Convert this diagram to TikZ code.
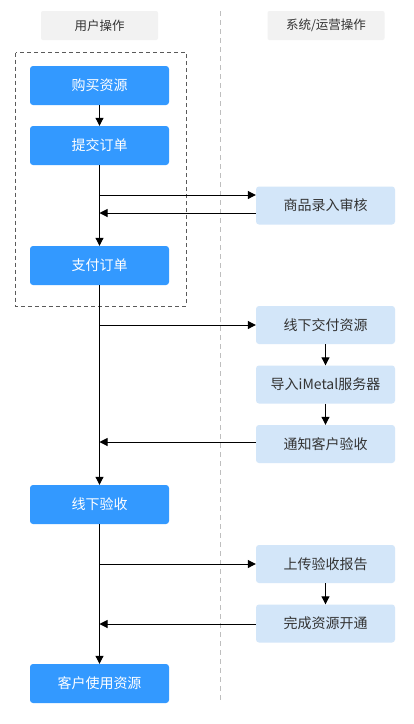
\documentclass[tikz,border=0pt]{standalone}
\usepackage{fontspec}
\setmainfont{Noto Sans CJK SC}
\usetikzlibrary{arrows.meta}
\definecolor{bluebox}{RGB}{51,153,255}
\definecolor{lightbox}{RGB}{211,230,249}
\definecolor{headbox}{RGB}{242,242,242}
\definecolor{txtgray}{RGB}{51,51,51}
\tikzset{
  x=1pt,y=-1pt,
  userbox/.style={fill=bluebox,rounded corners=3pt,minimum width=139pt,minimum height=39pt,inner sep=0pt,text=white,font=\fontsize{14}{16}\selectfont},
  sysbox/.style={fill=lightbox,rounded corners=3pt,minimum width=139pt,minimum height=38pt,inner sep=0pt,text=txtgray,font=\fontsize{14}{16}\selectfont},
  headnode/.style={fill=headbox,rounded corners=2pt,minimum width=117pt,minimum height=29pt,inner sep=0pt,text=txtgray,font=\fontsize{12.5}{14}\selectfont},
  flow/.style={line width=1pt,-{Triangle[length=8pt,width=8pt]}},
}
\begin{document}
\begin{tikzpicture}
\useasboundingbox[fill=white] (0,0) rectangle (413,724);
% headers
\node[headnode] (h1) at (99.5,25.5) {用户操作};
\node[headnode] (h2) at (326,25.5) {系统/运营操作};
% lane divider
\coordinate (d1) at (220,11);
\coordinate (d2) at (220,702);
\draw[draw={rgb,255:red,190;green,190;blue,190},line width=0.8pt,dash pattern=on 5pt off 4pt] (d1) -- (d2);
% group box
\coordinate (g1) at (15.5,52.5);
\coordinate (g2) at (186,306);
\draw[draw={rgb,255:red,90;green,90;blue,90},line width=0.8pt,dash pattern=on 4pt off 3pt] (g1) rectangle (g2);
% user nodes
\node[userbox] (buy) at (99.5,85.5) {购买资源};
\node[userbox] (sub) at (99.5,145.5) {提交订单};
\node[userbox] (pay) at (99.5,265.5) {支付订单};
\node[userbox] (chk) at (99.5,504.5) {线下验收};
\node[userbox] (use) at (99.5,683.5) {客户使用资源};
% system nodes
\node[sysbox] (rev) at (325.5,205.5) {商品录入审核};
\node[sysbox] (del) at (325.5,325) {线下交付资源};
\node[sysbox] (imp) at (325.5,384.5) {导入iMetal服务器};
\node[sysbox] (ntf) at (325.5,444) {通知客户验收};
\node[sysbox] (upl) at (325.5,564) {上传验收报告};
\node[sysbox] (opn) at (325.5,623.5) {完成资源开通};
% vertical flow
\draw[flow] (buy) -- (sub);
\draw[flow] (sub) -- (pay);
\draw[flow] (pay) -- (chk);
\draw[flow] (chk) -- (use);
\draw[flow] (del) -- (imp);
\draw[flow] (imp) -- (ntf);
\draw[flow] (upl) -- (opn);
% horizontal flow
\coordinate (a1) at (99.5,195);
\coordinate (a2) at (99.5,213);
\coordinate (a3) at (99.5,325);
\coordinate (a4) at (99.5,442);
\coordinate (a5) at (99.5,564);
\coordinate (a6) at (99.5,624);
\draw[flow] (a1) -- (rev.west |- a1);
\draw[flow] (rev.west |- a2) -- (a2);
\draw[flow] (a3) -- (del.west |- a3);
\draw[flow] (ntf.west |- a4) -- (a4);
\draw[flow] (a5) -- (upl.west |- a5);
\draw[flow] (opn.west |- a6) -- (a6);
\end{tikzpicture}
\end{document}
